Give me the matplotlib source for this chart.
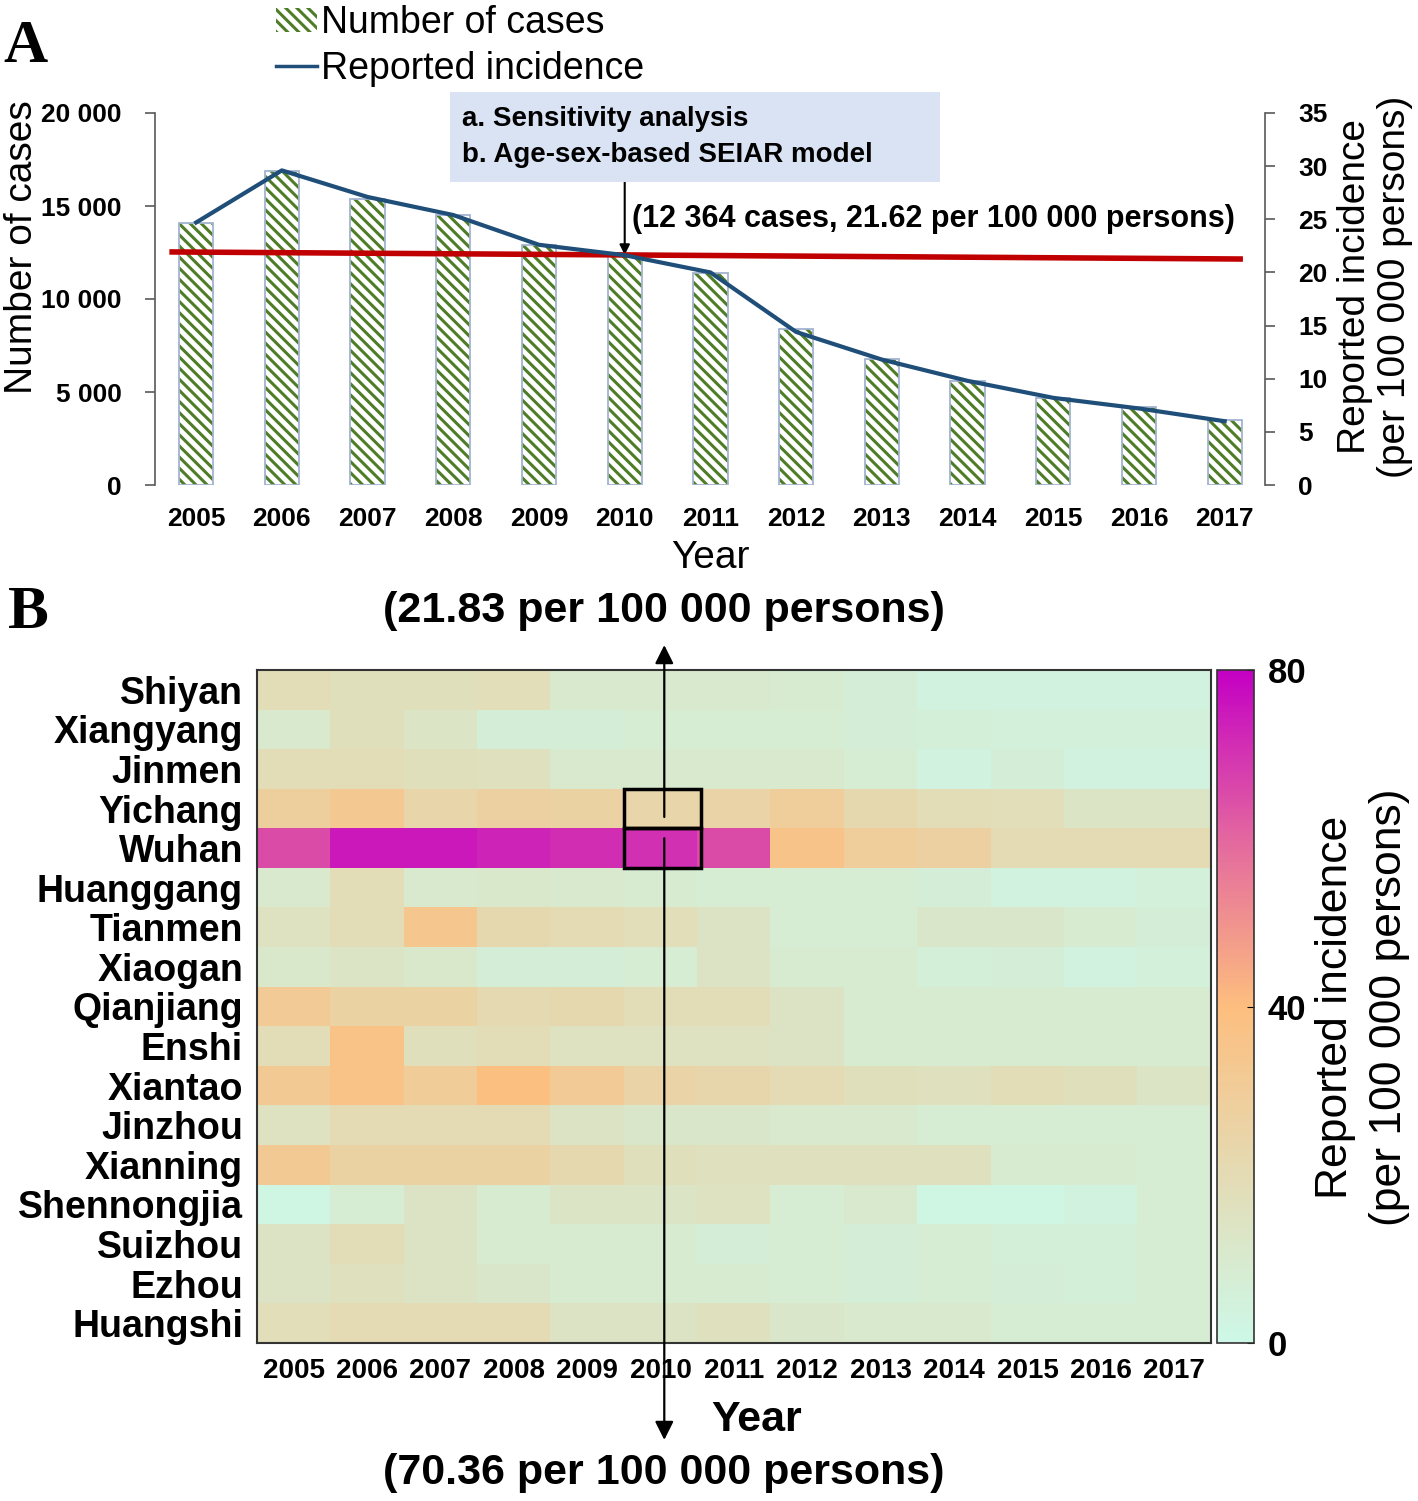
import matplotlib
matplotlib.use('Agg')
import matplotlib.pyplot as plt
import numpy as np
from matplotlib.colors import LinearSegmentedColormap
from matplotlib.patches import Rectangle, Patch
from matplotlib.lines import Line2D

plt.rcParams['font.family'] = 'Liberation Sans'
plt.rcParams['hatch.linewidth'] = 2.2

# panel A data
years = [2005, 2006, 2007, 2008, 2009, 2010, 2011, 2012, 2013, 2014, 2015, 2016, 2017]
cases = [14100, 16900, 15400, 14500, 12900, 12364, 11400, 8400, 6800, 5600, 4700, 4200, 3500]
incidence = [24.7, 29.6, 27.1, 25.4, 22.6, 21.62, 20.0, 14.4, 11.8, 9.8, 8.2, 7.2, 6.0]
# reference line (sensitivity analysis level), in case units, at bar positions
ref_pos = [-0.28, 12.18]
ref_cases = [12530, 12150]

# panel B data
cities = ['Shiyan', 'Xiangyang', 'Jinmen', 'Yichang', 'Wuhan', 'Huanggang', 'Tianmen',
          'Xiaogan', 'Qianjiang', 'Enshi', 'Xiantao', 'Jinzhou', 'Xianning',
          'Shennongjia', 'Suizhou', 'Ezhou', 'Huangshi']
heat = np.array([
    [19, 17, 17, 18, 10, 10, 10, 9, 7, 4, 4, 4, 4],
    [10, 17, 13, 7, 7, 8, 8, 8, 7, 6, 5, 5, 5],
    [19, 19, 17, 16, 10, 10, 10, 10, 8, 4, 7, 4, 4],
    [28, 33, 24, 27, 26, 24, 25, 29, 22, 19, 18, 13, 13],
    [65, 75, 75, 73, 71, 70.36, 65, 36, 29, 27, 20, 20, 20],
    [10, 19, 10, 11, 10, 9, 8, 8, 8, 7, 4, 4, 5],
    [15, 19, 34, 22, 20, 18, 14, 8, 8, 12, 12, 9, 7],
    [11, 13, 11, 7, 7, 8, 14, 9, 9, 6, 7, 4, 5],
    [31, 26, 26, 21, 22, 19, 19, 14, 9, 9, 9, 9, 9],
    [19, 37, 17, 19, 15, 15, 15, 14, 9, 9, 9, 9, 9],
    [32, 37, 30, 39, 31, 25, 23, 20, 17, 16, 19, 17, 13],
    [15, 20, 20, 20, 14, 12, 12, 10, 10, 8, 8, 8, 8],
    [32, 26, 26, 26, 22, 17, 16, 16, 16, 16, 9, 9, 8],
    [2, 8, 14, 9, 13, 13, 15, 8, 10, 2, 2, 4, 8],
    [14, 19, 14, 9, 9, 9, 7, 8, 7, 8, 6, 6, 8],
    [14, 16, 14, 12, 9, 9, 9, 8, 7, 8, 7, 6, 8],
    [18, 20, 20, 20, 14, 14, 16, 12, 10, 10, 8, 8, 8],
])

cmap = LinearSegmentedColormap.from_list(
    'inc', [(0, '#cdf8e8'), (0.25, '#e4dbb4'), (0.5, '#fdbe7e'), (0.75, '#e3679f'), (1, '#c400c4')])

W, H = 1418, 1501
fig = plt.figure(figsize=(W / 100, H / 100), dpi=100)

def fx(px):
    return px / W

def fy(py):
    return 1 - py / H

# ---------------- panel A ----------------
ax = fig.add_axes([fx(155), fy(485), fx(1110), 372 / H])
x = np.arange(len(years))
ax.bar(x, cases, width=0.4, color='white', edgecolor='#4f7d27', hatch='\\\\\\', linewidth=0)
ax.bar(x, cases, width=0.4, fill=False, edgecolor='#a3b4d1', linewidth=1.3)
ax.plot(ref_pos, ref_cases, color='#c00000', lw=4, zorder=4)
ax.set_xlim(-0.48, 12.47)
ax.set_ylim(0, 20000)
ax.set_yticks([0, 5000, 10000, 15000, 20000])
ax.set_yticklabels(['0', '5 000', '10 000', '15 000', '20 000'])
ax.set_xticks(x)
ax.set_xticklabels(years)
ax.tick_params(axis='x', length=0, pad=16, labelsize=19)
ax.tick_params(axis='y', length=7, width=1.2, color='#595959', pad=17, labelsize=19)
for lab in ax.get_xticklabels() + ax.get_yticklabels():
    lab.set_fontweight('bold')
for s in ['top', 'right', 'bottom']:
    ax.spines[s].set_visible(False)
ax.spines['left'].set_color('#595959')
ax.spines['left'].set_linewidth(1.2)

ax2 = ax.twinx()
ax2.plot(x, incidence, color='#1f4e79', lw=3, zorder=5)
ax2.set_ylim(0, 35)
ax2.set_yticks(range(0, 36, 5))
ax2.tick_params(axis='y', length=7, width=1.2, color='#595959', pad=17, labelsize=19)
for lab in ax2.get_yticklabels():
    lab.set_fontweight('bold')
for s in ['top', 'left', 'bottom']:
    ax2.spines[s].set_visible(False)
ax2.spines['right'].set_color('#595959')
ax2.spines['right'].set_linewidth(1.2)

# annotation box and arrow
fig.patches.append(Rectangle((fx(450), fy(182)), 490 / W, 90 / H, transform=fig.transFigure,
                             facecolor='#dae3f3', edgecolor='none', zorder=0))
fig.text(fx(462), fy(119), 'a. Sensitivity analysis', fontsize=20, fontweight='bold', va='center')
fig.text(fx(462), fy(155), 'b. Age-sex-based SEIAR model', fontsize=20, fontweight='bold', va='center')
ax.annotate('', xy=(5, np.interp(5, ref_pos, ref_cases)), xycoords='data',
            xytext=(5, (485 - 182) / 372), textcoords=('data', 'axes fraction'),
            arrowprops=dict(arrowstyle='-|>', color='black', lw=1.5, mutation_scale=15,
                            shrinkA=0, shrinkB=0), annotation_clip=False)
ax.annotate('(12 364 cases, 21.62 per 100 000 persons)', xy=(5.08, (485 - 219) / 372),
            xycoords=('data', 'axes fraction'), fontsize=22, fontweight='bold',
            ha='left', va='center')

legend_handles = [Patch(facecolor='white', edgecolor='#4f7d27', hatch='\\\\\\', lw=0),
                  Line2D([], [], color='#1f4e79', lw=2.5)]
fig.legend(legend_handles, ['Number of cases', 'Reported incidence'], loc='upper left',
           bbox_to_anchor=(fx(272), 0.999), fontsize=27, frameon=False, handlelength=1.1,
           handleheight=0.6, handletextpad=0.1, labelspacing=0.25, borderaxespad=0, borderpad=0.1)

fig.text(fx(22), fy(247), 'Number of cases', rotation=90, fontsize=28, ha='center', va='center')
fig.text(fx(1355), fy(287), 'Reported incidence', rotation=90, fontsize=28, ha='center', va='center')
fig.text(fx(1395), fy(287), '(per 100 000 persons)', rotation=90, fontsize=28, ha='center', va='center')
fig.text(fx(710), fy(558), 'Year', fontsize=28, ha='center', va='center')
fig.text(fx(26), fy(47), 'A', family='Liberation Serif', fontweight='bold', fontsize=44,
         ha='center', va='center')

# ---------------- panel B ----------------
axh = fig.add_axes([fx(257), fy(1343), fx(954), 673 / H])
im = axh.imshow(heat, cmap=cmap, vmin=0, vmax=80, aspect='auto', interpolation='nearest')
axh.set_yticks(range(len(cities)))
axh.set_yticklabels(cities, fontsize=27, fontweight='bold')
axh.set_xticks(range(len(years)))
axh.set_xticklabels(years, fontsize=20, fontweight='bold')
axh.tick_params(length=0)
axh.tick_params(axis='x', pad=11)
axh.tick_params(axis='y', pad=10)
for s in axh.spines.values():
    s.set_linewidth(1.5)
    s.set_color('#333333')

wuhan_row = cities.index('Wuhan')
col2010 = years.index(2010)
for r in (wuhan_row - 1, wuhan_row):
    axh.add_patch(Rectangle((col2010 - 0.5, r - 0.5), 1.05, 1, fill=False, lw=2.5,
                            ec='black', zorder=5))

arrow_kw = dict(arrowstyle='-|>', color='black', lw=1.6, mutation_scale=28, shrinkA=0, shrinkB=0)
axh.annotate('', xy=(col2010 + 0.05, 1.037), xycoords=('data', 'axes fraction'),
             xytext=(col2010 + 0.05, 0.7816), textcoords=('data', 'axes fraction'),
             arrowprops=arrow_kw, annotation_clip=False)
axh.annotate('', xy=(col2010 + 0.05, -0.144), xycoords=('data', 'axes fraction'),
             xytext=(col2010 + 0.05, 0.750), textcoords=('data', 'axes fraction'),
             arrowprops=arrow_kw, annotation_clip=False)

fig.text(fx(664), fy(611), '(21.83 per 100 000 persons)', fontsize=31, fontweight='bold',
         ha='center', va='center')
fig.text(fx(664), fy(1473), '(70.36 per 100 000 persons)', fontsize=31, fontweight='bold',
         ha='center', va='center')
fig.text(fx(757), fy(1420), 'Year', fontsize=31, fontweight='bold', ha='center', va='center')
fig.text(fx(28), fy(613), 'B', family='Liberation Serif', fontweight='bold', fontsize=44,
         ha='center', va='center')

cax = fig.add_axes([fx(1217), fy(1343), 37 / W, 673 / H])
cb = fig.colorbar(im, cax=cax, ticks=[0, 40, 80])
cb.ax.tick_params(labelsize=25, length=5, direction='in', pad=10)
for lab in cb.ax.get_yticklabels():
    lab.set_fontweight('bold')
cb.outline.set_linewidth(1.2)
cb.outline.set_edgecolor('#333333')
fig.text(fx(1335), fy(1007), 'Reported incidence', rotation=90, fontsize=32, ha='center', va='center')
fig.text(fx(1390), fy(1007), '(per 100 000 persons)', rotation=90, fontsize=32, ha='center', va='center')

fig.savefig('out.png', dpi=100)
